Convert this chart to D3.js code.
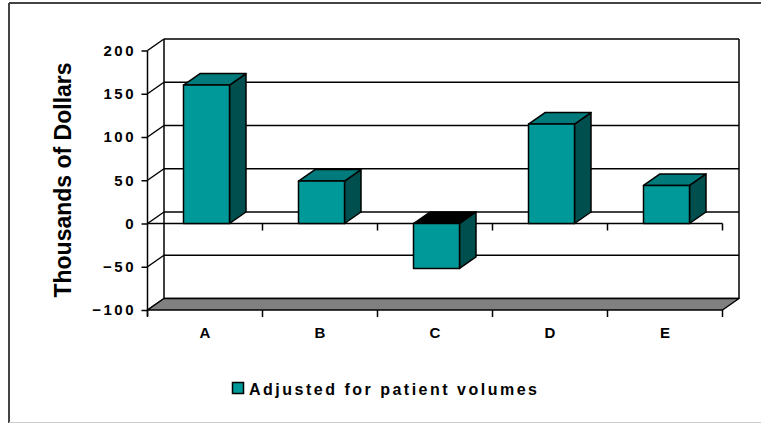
<!DOCTYPE html>
<html>
<head>
<meta charset="utf-8">
<script src="https://cdn.jsdelivr.net/npm/d3@7"></script>
<style>
  html, body { margin: 0; padding: 0; background: #fff; }
  svg { display: block; }
  text { font-family: Arial, "Liberation Sans", sans-serif; font-weight: bold; fill: #000; }
</style>
</head>
<body>
<svg id="chart" width="761" height="423"></svg>
<script>
// Chart data
const categories = ["A", "B", "C", "D", "E"];
const values = [160, 49, -52, 115, 44];
const yTicks = [-100, -50, 0, 50, 100, 150, 200];
const seriesName = "Adjusted for patient volumes";
const yTitle = "Thousands of Dollars";

const svg = d3.select("#chart");

// Plot frame (front plane) and 3D depth offset
const plotLeft = 147.5, plotRight = 722.5, plotTop = 50.5, plotBottom = 310;
const dx = 16.5, dy = -11.5;

const y = d3.scaleLinear().domain([-100, 200]).range([plotBottom, plotTop]);
const x = d3.scaleBand().domain(categories).range([plotLeft, plotRight])
  .paddingInner(0.6).paddingOuter(0.3);
const step = x.step();
const barShift = 1.5;

const colFront = "#009999", colTop = "#007a7a", colSide = "#004f4f";

// Outer border
svg.append("line").attr("x1", 9).attr("y1", 3).attr("x2", 761).attr("y2", 3)
  .attr("stroke", "#444").attr("stroke-width", 2);
svg.append("line").attr("x1", 9).attr("y1", 3).attr("x2", 9).attr("y2", 423)
  .attr("stroke", "#444").attr("stroke-width", 2);
svg.append("line").attr("x1", 9).attr("y1", 422.5).attr("x2", 761).attr("y2", 422.5)
  .attr("stroke", "#ccc").attr("stroke-width", 1);

const g = svg.append("g");
const ln = (x1, y1, x2, y2, w = 1.5) => g.append("line")
  .attr("x1", x1).attr("y1", y1).attr("x2", x2).attr("y2", y2)
  .attr("stroke", "#000").attr("stroke-width", w);

// Back wall gridlines and side-wall diagonals
yTicks.forEach(t => {
  ln(plotLeft + dx, y(t) + dy, plotRight + dx, y(t) + dy);
  ln(plotLeft, y(t), plotLeft + dx, y(t) + dy);
});
ln(plotLeft + dx, y(200) + dy, plotLeft + dx, y(-100) + dy);
ln(plotRight + dx, y(200) + dy, plotRight + dx, y(-100) + dy);

// Floor
g.append("polygon")
  .attr("points", [[plotLeft, y(-100)], [plotRight, y(-100)], [plotRight + dx, y(-100) + dy], [plotLeft + dx, y(-100) + dy]].join(" "))
  .attr("fill", "#808080").attr("stroke", "#000").attr("stroke-width", 1.5)
  .attr("stroke-linejoin", "round");

// Category axis along zero and along the floor front edge
ln(plotLeft, y(0), plotRight, y(0));
for (let i = 0; i <= categories.length; i++) {
  const bx = plotLeft + i * step;
  if (i > 0) ln(bx, y(0), bx, y(0) + 7);
  ln(bx, y(-100), bx, y(-100) + 7);
}

// Bars
categories.forEach((c, i) => {
  const v = values[i];
  const x0 = x(c) + barShift, x1 = x0 + x.bandwidth();
  const yHi = y(Math.max(v, 0)), yLo = y(Math.min(v, 0));
  const bar = g.append("g").attr("stroke", "#000").attr("stroke-width", 1.5)
    .attr("stroke-linejoin", "round");
  bar.append("polygon")
    .attr("points", [[x1, yHi], [x1 + dx, yHi + dy], [x1 + dx, yLo + dy], [x1, yLo]].join(" "))
    .attr("fill", colSide);
  bar.append("polygon")
    .attr("points", [[x0, yHi], [x0 + dx, yHi + dy], [x1 + dx, yHi + dy], [x1, yHi]].join(" "))
    .attr("fill", v < 0 ? "#000" : colTop);
  bar.append("rect")
    .attr("x", x0).attr("y", yHi).attr("width", x1 - x0).attr("height", yLo - yHi)
    .attr("fill", colFront);
});

// Value axis
const yAxis = d3.axisLeft(y).tickValues(yTicks).tickSize(6).tickPadding(8)
  .tickFormat(d3.format("d"));
const ya = svg.append("g").attr("transform", `translate(${plotLeft},0)`).call(yAxis);
ya.select(".domain").attr("stroke", "#000").attr("stroke-width", 1.5)
  .attr("d", `M0,${plotTop}V${plotBottom + 6}`);
ya.selectAll(".tick line").attr("stroke", "#000").attr("stroke-width", 1.5);
ya.selectAll(".tick text")
  .style("font-family", "Arial, 'Liberation Sans', sans-serif")
  .style("font-weight", "bold").style("font-size", "15px")
  .style("letter-spacing", "2.5px").attr("dx", "2.5px").attr("fill", "#000");

// Category labels
svg.selectAll(".cat").data(categories).join("text")
  .attr("class", "cat")
  .attr("x", d => x(d) + x.bandwidth() / 2)
  .attr("y", 338).attr("text-anchor", "middle")
  .style("font-size", "15px")
  .text(d => d);

// Value axis title
svg.append("text")
  .attr("transform", "translate(70.5,180) rotate(-90)")
  .attr("text-anchor", "middle").style("font-size", "23px")
  .text(yTitle);

// Legend
svg.append("rect").attr("x", 232.5).attr("y", 382.5).attr("width", 11).attr("height", 11)
  .attr("fill", colFront).attr("stroke", "#000").attr("stroke-width", 1.5);
svg.append("text").attr("x", 249).attr("y", 394.5)
  .style("font-size", "16px").style("letter-spacing", "2.5px")
  .text(seriesName);
</script>
</body>
</html>
